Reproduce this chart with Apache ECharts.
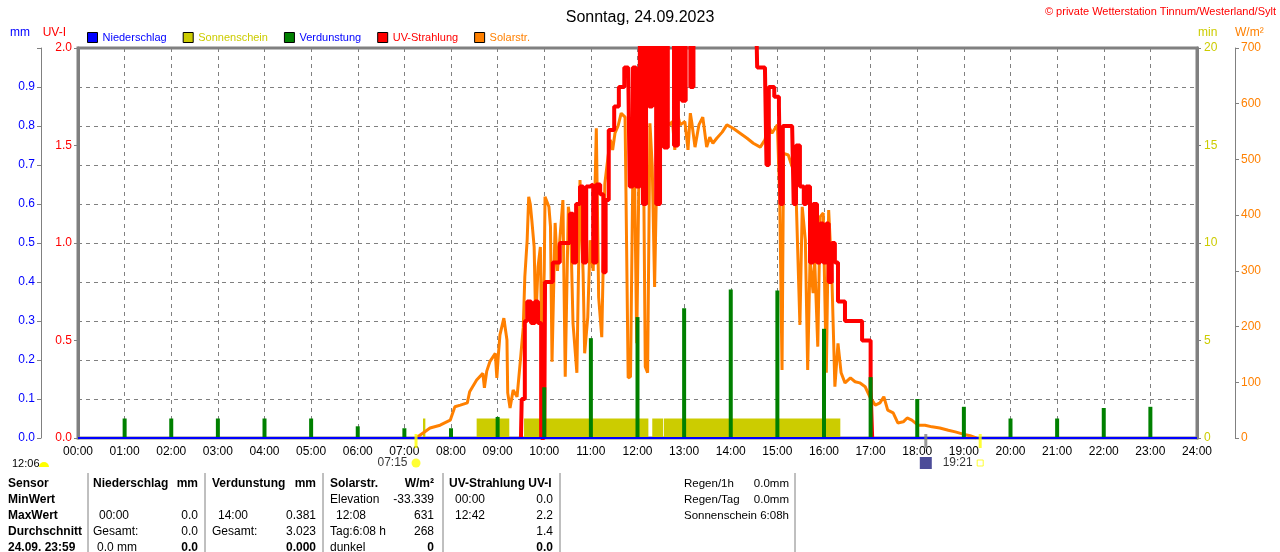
<!DOCTYPE html>
<html>
<head>
<meta charset="utf-8">
<script src="https://cdn.jsdelivr.net/npm/echarts@6/dist/echarts.min.js"></script>
<style>
  html, body { margin: 0; padding: 0; background: #fff; }
  #chart { width: 1280px; height: 552px; }
</style>
</head>
<body>
<div id="chart"></div>
<script>
// Niederschlag (mm) - den ganzen Tag 0
const rainTime = ['00:00', '24:00']
const rainMm = [0, 0]

// Verdunstung (mm) je Stunde
const evapTime = ['01:00','02:00','03:00','04:00','05:00','06:00','07:00','08:00','09:00','10:00','11:00','12:00',
  '13:00','14:00','15:00','16:00','17:00','18:00','19:00','20:00','21:00','22:00','23:00']
const evapMm = [0.05, 0.05, 0.05, 0.05, 0.05, 0.03, 0.025, 0.025, 0.054, 0.13, 0.256, 0.31,
  0.333, 0.381, 0.378, 0.28, 0.156, 0.1, 0.08, 0.05, 0.05, 0.077, 0.08]

// Sonnenschein (min) als Zeitblöcke
const sunStart = ['07:24', '08:33', '09:34', '12:19', '12:34']
const sunEnd   = ['07:27', '09:15', '12:14', '12:33', '16:21']
const sunMin   = [1, 1, 1, 1, 1]

// Solarstrahlung (W/m²)
const solarTime = ['07:15','07:20','07:33','07:46','07:59','08:05','08:12','08:21','08:24','08:33','08:41','08:43',
  '08:46','08:50','08:57','08:59','09:01','09:03','09:08','09:12','09:13','09:16','09:20','09:25','09:29','09:33',
  '09:35','09:38','09:40','09:42','09:44','09:47','09:49','09:52','09:55','09:57','10:00','10:01','10:06','10:08',
  '10:10','10:14','10:17','10:20','10:24','10:27','10:31','10:34','10:37','10:42','10:46','10:50','10:52','10:56',
  '10:59','11:03','11:07','11:10','11:14','11:18','11:22','11:25','11:28','11:31','11:35','11:39','11:44','11:48',
  '11:51','11:55','11:59','12:03','12:07','12:10','12:13','12:16','12:19','12:22','12:26','12:30','12:33','12:37',
  '12:41','12:45','12:48','12:51','12:55','13:01','13:05','13:08','13:10','13:14','13:19','13:24','13:29','13:33',
  '13:37','13:42','13:49','13:55','14:03','14:12','14:21','14:29','14:38','14:44','14:48','14:53','15:00','15:03',
  '15:06','15:08','15:14','15:19','15:23','15:29','15:32','15:36','15:39','15:42','15:46','15:48','15:52','15:55',
  '15:59','16:03','16:06','16:10','16:14','16:18','16:22','16:27','16:34','16:40','16:46','16:53','16:59','17:06',
  '17:12','17:17','17:22','17:29','17:35','17:42','17:47','17:53','18:01','18:10','18:19','18:29','18:40','18:49',
  '18:59','19:08','19:16']
const solarW = [0, 5, 18, 23, 32, 56, 59, 63, 83, 104, 116, 90,
  120, 137, 152, 108, 150, 185, 215, 176, 81, 54, 86, 74, 135, 199,
  289, 355, 433, 420, 391, 343, 206, 307, 343, 140, 300, 433, 415, 380,
  137, 386, 300, 355, 427, 110, 415, 380, 206, 117, 463, 296, 152, 217,
  355, 300, 556, 253, 181, 457, 504, 535, 517, 547, 560, 583, 576, 108,
  110, 600, 170, 594, 631, 128, 117, 565, 487, 271, 565, 612, 535, 571,
  562, 568, 517, 583, 562, 568, 517, 583, 565, 522, 562, 576, 522, 540,
  529, 538, 549, 562, 556, 547, 538, 529, 522, 535, 562, 547, 562, 433,
  122, 511, 508, 487, 487, 203, 415, 355, 122, 320, 260, 320, 164, 397,
  404, 117, 409, 296, 92, 170, 117, 99, 108, 101, 99, 92, 74, 59,
  63, 74, 50, 45, 27, 29, 36, 32, 23, 23, 20, 18, 14, 11,
  7, 4, 0]

// UV-Strahlung (UV-I)
const uvTime = ['09:30','09:31','09:35','09:38','09:43','09:48','09:52','09:56','10:00','10:01','10:06','10:11',
  '10:16','10:20','10:27','10:33','10:37','10:41','10:46','10:50','10:54','10:59','11:03','11:07','11:12','11:16',
  '11:19','11:23','11:30','11:36','11:43','11:48','11:50','11:54','11:58','12:03','12:07','12:11','12:15','12:19',
  '12:24','12:29','12:34','12:39','12:42','12:47','12:52','12:57','13:02','13:08','13:12','14:33','14:34','14:44',
  '14:46','14:49','14:56','15:02','15:04','15:07','15:19','15:21','15:24','15:29','15:34','15:37','15:42','15:46',
  '15:51','15:55','15:59','16:03','16:06','16:10','16:14','16:18','16:27','16:49','17:00','17:02']
const uvIndex = [0, 0.2, 0.6, 0.7, 0.59, 0.7, 0.59, 0, 0, 0.8, 0.8, 0.9,
  0.9, 1.0, 1.0, 1.15, 0.9, 1.2, 1.29, 0.9, 1.29, 1.3, 0.9, 1.3, 1.25, 0.85,
  1.22, 1.58, 1.7, 1.8, 1.9, 1.9, 1.29, 1.9, 1.29, 2.1, 1.2, 2.1, 1.7, 2.1,
  1.2, 2.1, 1.49, 2.1, 2.2, 1.5, 2.1, 1.73, 2.1, 1.8, 2.1, 2.1, 1.9, 1.9,
  1.4, 1.8, 1.75, 1.7, 1.2, 1.6, 1.6, 1.2, 1.5, 1.29, 1.2, 1.29, 0.9, 1.2,
  0.9, 1.1, 0.9, 1.1, 0.8, 1.0, 0.9, 0.7, 0.6, 0.5, 0.25, 0]

// Sonnenaufgang / Mond / Sonnenuntergang unter der Achse
const eventTime = ['07:15', '18:11', '19:21']
const eventLabel = ['07:15', '', '19:21']

// Tabelle unten
const tableRows = ['Sensor', 'MinWert', 'MaxWert', 'Durchschnitt', '24.09. 23:59']
const tableCols = [
  { head: 'Niederschlag', unit: 'mm', cells: [['', ''], ['00:00', '0.0'], ['Gesamt:', '0.0'], ['0.0 mm', '0.0']] },
  { head: 'Verdunstung', unit: 'mm', cells: [['', ''], ['14:00', '0.381'], ['Gesamt:', '3.023'], ['', '0.000']] },
  { head: 'Solarstr.', unit: 'W/m²', cells: [['Elevation', '-33.339'], ['12:08', '631'], ['Tag:6:08 h', '268'], ['dunkel', '0']] },
  { head: 'UV-Strahlung UV-I', unit: '', cells: [['00:00', '0.0'], ['12:42', '2.2'], ['', '1.4'], ['', '0.0']] }
]
const summaryLabel = ['Regen/1h', 'Regen/Tag', 'Sonnenschein']
const summaryValue = ['0.0mm', '0.0mm', '6:08h']

const toH = s => { const p = s.split(':'); return +p[0] + (+p[1]) / 60 }
const pad = n => (n < 10 ? '0' : '') + n

const FONT = 'Liberation Sans'
const GRAY = '#808080'

const chart = echarts.init(document.getElementById('chart'), null, { renderer: 'canvas' })

// Tabelle als Text
const graphics = []
const colX = [[93, 198], [212, 316], [330, 434], [449, 553]]
const rowY = [484, 500, 516, 532, 548]
const txt = (x, y, s, opt = {}) => graphics.push({
  type: 'text', x, y, silent: true,
  style: { text: s, fill: '#000', font: (opt.bold ? 'bold ' : '') + (opt.size || 12) + 'px "' + FONT + '"',
    textAlign: opt.align || 'left', textVerticalAlign: 'middle' }
})
tableRows.forEach((r, i) => txt(8, rowY[i], r, { bold: true }))
tableCols.forEach((c, ci) => {
  const [l, r] = colX[ci]
  txt(l, rowY[0], c.head, { bold: true })
  if (c.unit) txt(r, rowY[0], c.unit, { bold: true, align: 'right' })
  c.cells.forEach((cell, ri) => {
    const indent = /^\d\d:\d\d$/.test(cell[0]) ? 6 : (cell[0] === '0.0 mm' ? 4 : 0)
    if (cell[0]) txt(l + indent, rowY[ri + 1], cell[0])
    if (cell[1]) txt(r, rowY[ri + 1], cell[1], { align: 'right', bold: ri === 3 })
  })
})
summaryLabel.forEach((s, i) => {
  txt(684, rowY[i], s, { size: 11.5 })
  txt(789, rowY[i], summaryValue[i], { align: 'right', size: 11.5 })
})
;[88, 205, 323, 443, 560, 795].forEach(x => graphics.push({
  type: 'line', silent: true, shape: { x1: x, y1: 473, x2: x, y2: 552 },
  style: { stroke: GRAY, lineWidth: 1 }
}))
// Sonnenhöchststand links unten
txt(12, 464, '12:06', { size: 11 })
graphics.push({ type: 'sector', silent: true,
  shape: { cx: 44, cy: 467, r: 5, r0: 0, startAngle: Math.PI, endAngle: 2 * Math.PI },
  style: { fill: '#ffff00' } })
// Copyright
graphics.push({ type: 'text', right: 4, top: 6, silent: true,
  style: { text: '© private Wetterstation Tinnum/Westerland/Sylt', fill: '#ff0000', font: '11px "' + FONT + '"' } })

const axisLabelBase = { fontFamily: FONT, fontSize: 12 }

chart.setOption({
  animation: false,
  backgroundColor: '#fff',
  title: {
    text: 'Sonntag, 24.09.2023', left: 'center', top: 5,
    textStyle: { fontFamily: FONT, fontSize: 16, fontWeight: 'normal', color: '#000' }
  },
  legend: {
    left: 87, top: 32, padding: 0, icon: 'rect', itemWidth: 10, itemHeight: 10, itemGap: 16,
    selectedMode: false,
    itemStyle: { borderColor: '#000', borderWidth: 1 },
    textStyle: { fontFamily: FONT, fontSize: 11 },
    data: [
      { name: 'Niederschlag', textStyle: { color: '#0000ff' } },
      { name: 'Sonnenschein', textStyle: { color: '#cccc00' } },
      { name: 'Verdunstung', textStyle: { color: '#0000ff' } },
      { name: 'UV-Strahlung', textStyle: { color: '#ff0000' } },
      { name: 'Solarstr.', textStyle: { color: '#ff8000' } }
    ]
  },
  grid: { left: 78, right: 83, top: 48, bottom: 114, show: true, borderColor: GRAY, borderWidth: 3 },
  xAxis: {
    type: 'value', min: 0, max: 24, interval: 1,
    axisLine: { lineStyle: { color: GRAY, width: 2 } },
    axisTick: { show: false },
    axisLabel: { ...axisLabelBase, color: '#000', margin: 8, formatter: v => pad(v) + ':00' },
    splitLine: { show: true, lineStyle: { color: GRAY, type: [4, 4], width: 1 } }
  },
  yAxis: [
    { // UV-I
      type: 'value', position: 'left', offset: 0, min: 0, max: 2, interval: 0.5,
      name: 'UV-I', nameLocation: 'end', nameGap: 9,
      nameTextStyle: { ...axisLabelBase, color: '#ff0000', align: 'right', padding: [0, 12, 0, 0] },
      axisLine: { show: true, lineStyle: { color: GRAY, width: 3 } },
      axisTick: { show: true, length: 4, lineStyle: { color: GRAY } },
      axisLabel: { ...axisLabelBase, color: '#ff0000', margin: 6, formatter: v => v.toFixed(1) },
      splitLine: { show: false }
    },
    { // mm
      type: 'value', position: 'left', offset: 37, min: 0, max: 1, interval: 0.1,
      name: 'mm', nameLocation: 'end', nameGap: 9,
      nameTextStyle: { ...axisLabelBase, color: '#0000ff', align: 'right', padding: [0, 11, 0, 0] },
      axisLine: { show: true, lineStyle: { color: GRAY, width: 1 } },
      axisTick: { show: true, length: 4, lineStyle: { color: GRAY } },
      axisLabel: { ...axisLabelBase, color: '#0000ff', margin: 6, formatter: v => (v >= 0.999 ? '' : v.toFixed(1)) },
      splitLine: { show: true, lineStyle: { color: GRAY, type: [4, 4], width: 1 } }
    },
    { // min
      type: 'value', position: 'right', offset: 0, min: 0, max: 20, interval: 5,
      name: 'min', nameLocation: 'end', nameGap: 9,
      nameTextStyle: { ...axisLabelBase, color: '#cccc00', align: 'left', padding: [0, 0, 0, 1] },
      axisLine: { show: true, lineStyle: { color: GRAY, width: 3 } },
      axisTick: { show: true, length: 4, lineStyle: { color: GRAY } },
      axisLabel: { ...axisLabelBase, color: '#cccc00', margin: 7 },
      splitLine: { show: false }
    },
    { // W/m²
      type: 'value', position: 'right', offset: 38, min: 0, max: 700, interval: 100,
      name: 'W/m²', nameLocation: 'end', nameGap: 9,
      nameTextStyle: { ...axisLabelBase, color: '#ff8000', align: 'left', padding: [0, 0, 0, 0] },
      axisLine: { show: true, lineStyle: { color: GRAY, width: 1 } },
      axisTick: { show: true, length: 4, lineStyle: { color: GRAY } },
      axisLabel: { ...axisLabelBase, color: '#ff8000', margin: 6 },
      splitLine: { show: false }
    }
  ],
  series: [
    {
      name: 'Sonnenschein', type: 'custom', xAxisIndex: 0, yAxisIndex: 2, z: 1,
      itemStyle: { color: '#cccc00' },
      encode: { x: [0, 1], y: 2 },
      data: sunStart.map((s, i) => [toH(s), toH(sunEnd[i]), sunMin[i]]),
      renderItem: (params, api) => {
        const a = api.coord([api.value(0), api.value(2)])
        const b = api.coord([api.value(1), 0])
        return { type: 'rect', shape: { x: a[0], y: a[1], width: b[0] - a[0], height: b[1] - a[1] },
          style: { fill: '#cccc00' } }
      }
    },
    {
      name: 'Solarstr.', type: 'line', yAxisIndex: 3, z: 2,
      showSymbol: false, color: '#ff8000',
      lineStyle: { color: '#ff8000', width: 3 },
      data: solarTime.map((t, i) => [toH(t), solarW[i]])
    },
    {
      name: 'UV-Strahlung', type: 'line', yAxisIndex: 0, z: 3, step: 'end',
      showSymbol: false, color: '#ff0000',
      lineStyle: { color: '#ff0000', width: 4 },
      data: uvTime.map((t, i) => [toH(t), uvIndex[i]])
    },
    {
      name: 'Verdunstung', type: 'bar', yAxisIndex: 1, z: 4, barWidth: 4,
      itemStyle: { color: '#008000' },
      data: evapTime.map((t, i) => [toH(t), evapMm[i]])
    },
    {
      name: 'Niederschlag', type: 'line', yAxisIndex: 1, z: 5,
      showSymbol: false, color: '#0000ff',
      lineStyle: { color: '#0000ff', width: 2 },
      data: rainTime.map((t, i) => [toH(t), rainMm[i]])
    },
    { // Striche an der Zeitachse
      name: 'events', type: 'scatter', yAxisIndex: 0, z: 6, clip: false, silent: true,
      symbol: 'rect', symbolSize: [3, 14], symbolOffset: [0, 3],
      itemStyle: { color: p => ['#ffff00', GRAY, '#ffff00'][p.dataIndex] },
      data: eventTime.map(t => [toH(t), 0])
    },
    { // Symbole mit Uhrzeit
      name: 'eventIcons', type: 'scatter', yAxisIndex: 0, z: 6, clip: false, silent: true,
      symbolOffset: [0, 25],
      data: eventTime.map((t, i) => ({
        value: [toH(t), 0],
        symbol: ['circle', 'rect', 'rect'][i],
        symbolSize: [9, 12, 6][i],
        itemStyle: i === 2
          ? { color: '#fff', borderColor: '#ffff00', borderWidth: 1 }
          : { color: ['#ffff00', '#202080'][i] },
        label: {
          show: !!eventLabel[i], position: 'left', distance: 4,
          formatter: eventLabel[i], color: '#000', fontFamily: FONT, fontSize: 12
        }
      }))
    }
  ],
  graphic: graphics
})
</script>
</body>
</html>
